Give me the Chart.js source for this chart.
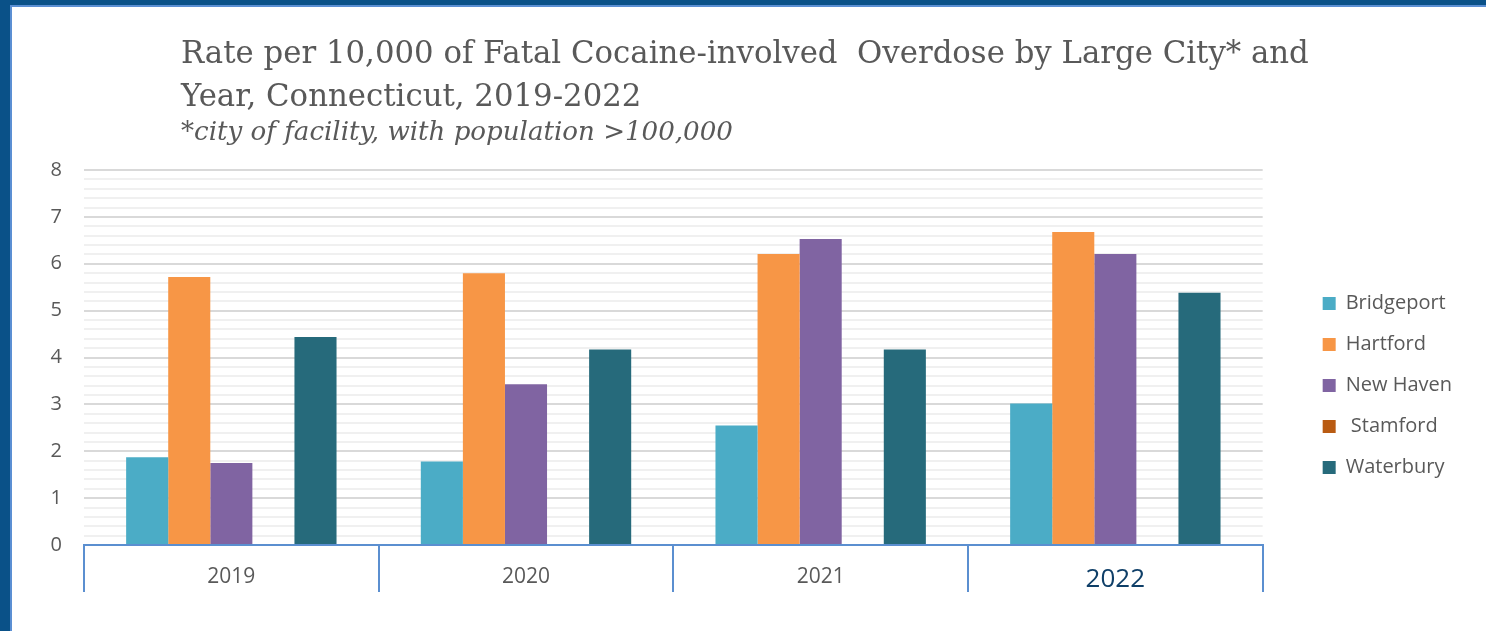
<!DOCTYPE html>
<html>
<head>
<meta charset="utf-8">
<script src="https://cdn.jsdelivr.net/npm/chart.js@4.4.1/dist/chart.umd.min.js"></script>
<style>
  html, body { margin: 0; padding: 0; background: #ffffff; width: 1486px; height: 631px; overflow: hidden; }
  #wrap { position: relative; width: 1486px; height: 631px; }
  #chart { position: absolute; left: 0; top: 0; }
  .frame { position: absolute; }
  .t { position: absolute; left: 181px; color: #595959; white-space: pre; font-family: "DejaVu Serif", serif; line-height: 1; }
</style>
</head>
<body>
<div id="wrap">
  <canvas id="chart" width="1486" height="631"></canvas>
  <div class="frame" style="left:0;top:0;width:1486px;height:5px;background:#0a5188;"></div>
  <div class="frame" style="left:10px;top:5px;width:1476px;height:2px;background:#5b8fd3;"></div>
  <div class="frame" style="left:0;top:0;width:10px;height:631px;background:#0a5188;"></div>
  <div class="frame" style="left:10px;top:5px;width:2px;height:626px;background:#5b8fd3;"></div>
  <div class="t" id="t1" style="top:35px;font-size:32px;">Rate per 10,000 of Fatal Cocaine-involved  Overdose by Large City* and</div>
  <div class="t" id="t2" style="top:79px;font-size:32px;">Year, Connecticut, 2019-2022</div>
  <div class="t" id="t3" style="top:118px;font-size:26px;font-style:italic;">*city of facility, with population &gt;100,000</div>
</div>
<script>
const categories = ['2019', '2020', '2021', '2022'];
const seriesNames = ['Bridgeport', 'Hartford', 'New Haven', ' Stamford', 'Waterbury'];
const bridgeport = [1.87, 1.78, 2.55, 3.02];
const hartford = [5.72, 5.80, 6.21, 6.68];
const newHaven = [1.75, 3.43, 6.53, 6.21];
const stamford = [0, 0, 0, 0];
const waterbury = [4.44, 4.17, 4.17, 5.38];
const yTickLabels = [0, 1, 2, 3, 4, 5, 6, 7, 8];

const seriesColors = ['#4bacc6', '#f79646', '#8064a2', '#b95b12', '#266a7b'];
const seriesValues = [bridgeport, hartford, newHaven, stamford, waterbury];

// fit title lines to the widths seen in the reference
(function fitTitles() {
  const c = document.createElement('canvas').getContext('2d');
  const fit = (id, target, italic, baseline) => {
    const el = document.getElementById(id);
    const size = parseFloat(el.style.fontSize);
    c.font = (italic ? 'italic ' : '') + size + 'px "DejaVu Serif"';
    const w = c.measureText(el.textContent).width;
    const ns = size * target / w;
    el.style.fontSize = ns.toFixed(2) + 'px';
    el.style.top = (baseline - 0.846 * ns).toFixed(1) + 'px';
    return ns;
  };
  const s1 = fit('t1', 1128, false, 62.7);
  const t2 = document.getElementById('t2');
  t2.style.fontSize = s1.toFixed(2) + 'px';
  t2.style.top = (106 - 0.846 * s1).toFixed(1) + 'px';
  fit('t3', 552, true, 140);
})();

const padL = 12;
const isMajor = v => yTickLabels.some(t => Math.abs(t - v) < 1e-6);

new Chart(document.getElementById('chart'), {
  type: 'bar',
  data: {
    labels: categories,
    datasets: seriesNames.map((name, i) => ({
      label: name,
      data: seriesValues[i],
      backgroundColor: seriesColors[i],
      borderWidth: 0,
      barPercentage: 1,
      categoryPercentage: 0.714
    }))
  },
  options: {
    responsive: false,
    animation: false,
    devicePixelRatio: 1,
    layout: { padding: { top: 170, bottom: 30, left: padL, right: 24 } },
    plugins: {
      title: { display: false },
      tooltip: { enabled: false },
      legend: {
        position: 'right',
        labels: {
          boxWidth: 13,
          boxHeight: 13,
          padding: 21,
          color: '#595959',
          font: { family: 'Open Sans', size: 20 }
        }
      }
    },
    scales: {
      x: {
        grid: { offset: true, drawOnChartArea: false, drawTicks: true, tickLength: 47, color: '#5b8fd0', lineWidth: 2 },
        border: { display: true, color: '#5b8fd0', width: 2 },
        ticks: {
          maxRotation: 0,
          padding: -28,
          color: ctx => ctx.index === 3 ? '#0f3f68' : '#595959',
          font: ctx => ({ family: 'Open Sans', size: ctx.index === 3 ? 26 : 21 })
        },
        afterFit: s => { s.height = 56; }
      },
      y: {
        min: 0,
        max: 8,
        ticks: {
          stepSize: 0.2,
          autoSkip: false,
          padding: 22,
          color: '#595959',
          font: { family: 'Open Sans', size: 20 },
          callback: v => isMajor(v) ? String(Math.round(v)) : ''
        },
        grid: {
          drawTicks: false,
          lineWidth: 2,
          color: ctx => isMajor(ctx.tick.value) ? '#d9d9d9' : '#f0f0f0'
        },
        border: { display: false },
        afterFit: s => { s.width = 84 - padL; }
      },
      gap: {
        type: 'linear',
        position: 'right',
        display: true,
        grid: { display: false },
        border: { display: false },
        ticks: { display: false },
        afterFit: s => { s.width = 39; }
      }
    }
  }
});
</script>
</body>
</html>
